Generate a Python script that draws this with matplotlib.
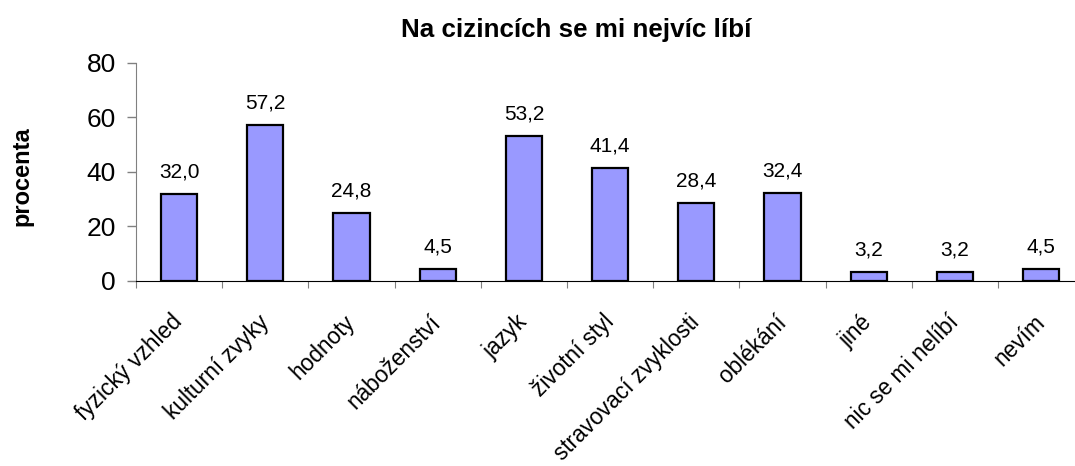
import matplotlib.pyplot as plt

plt.rcParams['font.family'] = ['Liberation Sans', 'DejaVu Sans']

categories = ['fyzický vzhled', 'kulturní zvyky', 'hodnoty', 'náboženství', 'jazyk',
              'životní styl', 'stravovací zvyklosti', 'oblékání', 'jiné',
              'nic se mi nelíbí', 'nevím']
values = [32.0, 57.2, 24.8, 4.5, 53.2, 41.4, 28.4, 32.4, 3.2, 3.2, 4.5]
value_labels = ['32,0', '57,2', '24,8', '4,5', '53,2', '41,4', '28,4', '32,4', '3,2', '3,2', '4,5']
y_ticks = [0, 20, 40, 60, 80]

fig = plt.figure(figsize=(10.75, 4.66), dpi=100)
ax = fig.add_axes([0.1265, 0.397, 0.882, 0.4685])

x = list(range(len(categories)))
bars = ax.bar(x, values, width=0.42, color='#9999FF', edgecolor='black', linewidth=1.6)

for xi, v, lab in zip(x, values, value_labels):
    ax.annotate(lab, (xi, v), xytext=(0, 9), textcoords='offset points',
                ha='center', va='bottom', fontsize=15)

ax.set_xlim(-0.5, len(categories) - 0.5)
ax.set_ylim(0, 80)
ax.set_yticks(y_ticks)
ax.tick_params(axis='y', labelsize=19, color='#808080', length=6.5, width=1, pad=8)

# category boundaries get the tick marks, labels go in the middle
ax.set_xticks([i - 0.5 for i in x], minor=False)
ax.set_xticklabels([])
ax.set_xticks(x, minor=True)
ax.set_xticklabels(categories, minor=True, rotation=45, ha='right', va='center',
                   rotation_mode='anchor', fontsize=16.3)
ax.tick_params(axis='x', which='major', color='#808080', length=5)
ax.tick_params(axis='x', which='minor', length=0, pad=27)

ax.spines['top'].set_visible(False)
ax.spines['right'].set_visible(False)
ax.spines['left'].set_color('#808080')
ax.spines['bottom'].set_color('black')

fig.text(0.0205, 0.622, 'procenta', rotation=90, ha='center', va='center',
         fontsize=17, fontweight='bold')
fig.text(0.536, 0.9206, 'Na cizincích se mi nejvíc líbí', ha='center', va='baseline',
         fontsize=18.75, fontweight='bold')

fig.savefig('out.png', dpi=100)
